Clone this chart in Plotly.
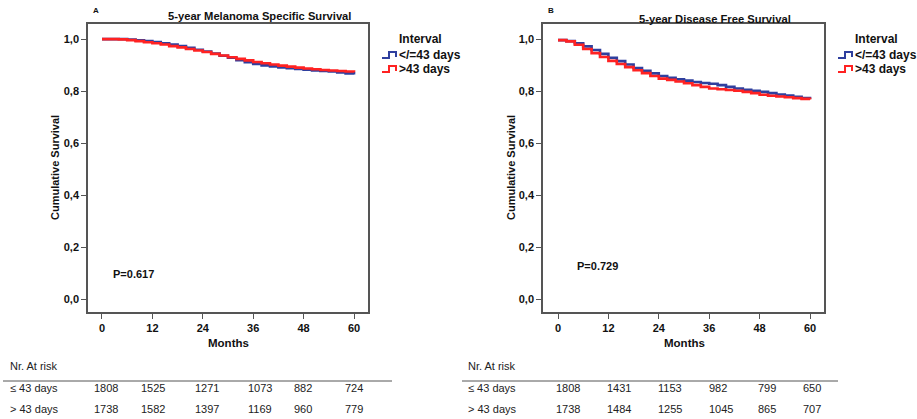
import plotly.graph_objects as go

W, H = 917, 419

# ---------------- data ----------------
months = [0, 2, 4, 6, 8, 10, 12, 14, 16, 18, 20, 22, 24, 26, 28, 30,
          32, 34, 36, 38, 40, 42, 44, 46, 48, 50, 52, 54, 56, 58, 60]

mss_le43 = [1.000, 1.000, 1.000, 0.998, 0.995, 0.992, 0.989, 0.984, 0.979, 0.973,
            0.966, 0.959, 0.952, 0.944, 0.936, 0.928, 0.919, 0.911, 0.904, 0.899,
            0.895, 0.891, 0.888, 0.885, 0.882, 0.879, 0.877, 0.875, 0.872, 0.868, 0.864]
mss_gt43 = [1.000, 1.000, 0.999, 0.996, 0.992, 0.988, 0.984, 0.979, 0.973, 0.968,
            0.962, 0.956, 0.950, 0.943, 0.937, 0.930, 0.924, 0.918, 0.912, 0.907,
            0.902, 0.898, 0.894, 0.890, 0.887, 0.884, 0.881, 0.879, 0.877, 0.875, 0.872]

dfs_le43 = [0.996, 0.992, 0.984, 0.972, 0.958, 0.943, 0.928, 0.915, 0.902, 0.889,
            0.878, 0.868, 0.858, 0.851, 0.845, 0.840, 0.835, 0.831, 0.828, 0.823,
            0.816, 0.810, 0.805, 0.801, 0.797, 0.792, 0.787, 0.783, 0.778, 0.773, 0.769]
dfs_gt43 = [0.996, 0.991, 0.978, 0.962, 0.946, 0.931, 0.916, 0.904, 0.892, 0.880,
            0.869, 0.858, 0.848, 0.843, 0.837, 0.830, 0.823, 0.816, 0.810, 0.807,
            0.804, 0.801, 0.797, 0.792, 0.786, 0.782, 0.779, 0.776, 0.773, 0.770, 0.768]

x_ticks = [0, 12, 24, 36, 48, 60]
y_ticks = [0.0, 0.2, 0.4, 0.6, 0.8, 1.0]
y_tick_labels = ["0,0", "0,2", "0,4", "0,6", "0,8", "1,0"]

series_names = ["</=43 days", ">43 days"]
risk_labels = ["\u2264 43 days", "> 43 days"]
risk_mss_le43 = [1808, 1525, 1271, 1073, 882, 724]
risk_mss_gt43 = [1738, 1582, 1397, 1169, 960, 779]
risk_dfs_le43 = [1808, 1431, 1153, 982, 799, 650]
risk_dfs_gt43 = [1738, 1484, 1255, 1045, 865, 707]

titles = ["5-year Melanoma Specific Survival", "5-year Disease Free Survival"]
panel_letters = ["A", "B"]
p_values = ["P=0.617", "P=0.729"]

# ---------------- style ----------------
FONT = "Liberation Sans, Arial, sans-serif"
BLUE = "#2f3f9e"
RED = "#ff2222"
AXC = "#555555"


def px(x):
    return x / W


def py(y):
    return 1 - y / H


fig = go.Figure()

panels = [
    dict(xa="x", ya="y", s=(mss_le43, mss_gt43)),
    dict(xa="x2", ya="y2", s=(dfs_le43, dfs_gt43)),
]

for p in panels:
    for vals, name, col in [(p["s"][0], series_names[0], BLUE), (p["s"][1], series_names[1], RED)]:
        fig.add_trace(go.Scatter(
            x=months, y=vals, mode="lines", line=dict(color=col, width=2.6, shape="hv"),
            name=name, showlegend=False, xaxis=p["xa"], yaxis=p["ya"]))

ydom = (py(312), py(24))
axis_common = dict(showgrid=False, zeroline=False, showline=True, linecolor=AXC, linewidth=1.5,
                   mirror=True, ticks="outside", ticklen=5, tickcolor=AXC, tickwidth=1.2,
                   tickfont=dict(family=FONT, size=11, color="#111", weight="bold"))

fig.update_layout(
    width=W, height=H, margin=dict(l=0, r=0, t=0, b=0),
    plot_bgcolor="white", paper_bgcolor="white", showlegend=False,
    font=dict(family=FONT, color="#111"),
    xaxis=dict(domain=[px(88), px(368)], range=[-3.33, 63.33], tickvals=x_ticks,
               anchor="y", **axis_common),
    yaxis=dict(domain=list(ydom), range=[-0.05, 1.058], tickvals=y_ticks,
               ticktext=y_tick_labels, anchor="x", **axis_common),
    xaxis2=dict(domain=[px(543), px(824)], range=[-3.57, 63.33], tickvals=x_ticks,
                anchor="y2", **axis_common),
    yaxis2=dict(domain=list(ydom), range=[-0.05, 1.058], tickvals=y_ticks,
                ticktext=y_tick_labels, anchor="x2", **axis_common),
)

ann = []
shapes = []


def text(x, y, s, size=11, bold=False, xanchor="left", angle=0, color="#111"):
    ann.append(dict(x=px(x), y=py(y), xref="paper", yref="paper", text=s, showarrow=False,
                    xanchor=xanchor, yanchor="middle", textangle=angle,
                    font=dict(family=FONT, size=size, color=color,
                              weight="bold" if bold else "normal")))


# per-panel layout constants (pixels)
layout_px = [
    dict(title_x=259, title_y=16, letter_x=96, letter_y=11, ytitle_x=55, xtitle_x=228,
         p_x=111, p_y=274, leg_x=382, leg_title_x=420,
         table_x=8, line_x=(3, 392), cols=[92, 139, 193, 246, 292, 343],
         risk=(risk_mss_le43, risk_mss_gt43)),
    dict(title_x=715, title_y=19, letter_x=551, letter_y=10, ytitle_x=511, xtitle_x=684,
         p_x=575, p_y=266, leg_x=838, leg_title_x=876,
         table_x=466, line_x=(462, 838), cols=[554, 605, 656, 707, 756, 801],
         risk=(risk_dfs_le43, risk_dfs_gt43)),
]

for i, L in enumerate(layout_px):
    text(L["title_x"], L["title_y"], titles[i], size=11.2, bold=True, xanchor="center")
    text(L["letter_x"], L["letter_y"], panel_letters[i], size=8, bold=True, xanchor="center")
    text(L["ytitle_x"], 168, "Cumulative Survival", size=11, bold=True, xanchor="center", angle=-90)
    text(L["xtitle_x"], 343, "Months", size=11.5, bold=True, xanchor="center")
    text(L["p_x"], L["p_y"], p_values[i], size=11, bold=True)
    # legend
    text(L["leg_title_x"], 39, "Interval", size=12, bold=True, xanchor="center")
    for j, (nm, col) in enumerate(zip(series_names, [BLUE, RED])):
        yb = 58 + j * 14
        x0 = L["leg_x"]
        shapes.append(dict(type="path", xref="paper", yref="paper",
                           path=f"M {px(x0)},{py(yb)} L {px(x0 + 7)},{py(yb)} L {px(x0 + 7)},{py(yb - 6)} "
                                f"L {px(x0 + 14)},{py(yb - 6)} L {px(x0 + 14)},{py(yb - 1)}",
                           line=dict(color=col, width=2)))
        text(x0 + 15, yb - 3, nm, size=12, bold=True)
    # at-risk table
    text(L["table_x"], 366, "Nr. At risk", size=11, color="#222")
    shapes.append(dict(type="line", xref="paper", yref="paper",
                       x0=px(L["line_x"][0]), x1=px(L["line_x"][1]), y0=py(381), y1=py(381),
                       line=dict(color="#555", width=1)))
    for r, (lab, row) in enumerate(zip(risk_labels, L["risk"])):
        yy = 388 + r * 21
        text(L["table_x"], yy, lab, size=11, color="#222")
        for cx, v in zip(L["cols"], row):
            text(cx, yy, str(v), size=11, color="#222")

fig.update_layout(annotations=ann, shapes=shapes)
fig.write_html("out.html", config={"displayModeBar": False},
               post_script="document.body.style.margin='0';document.body.style.overflow='hidden';")
